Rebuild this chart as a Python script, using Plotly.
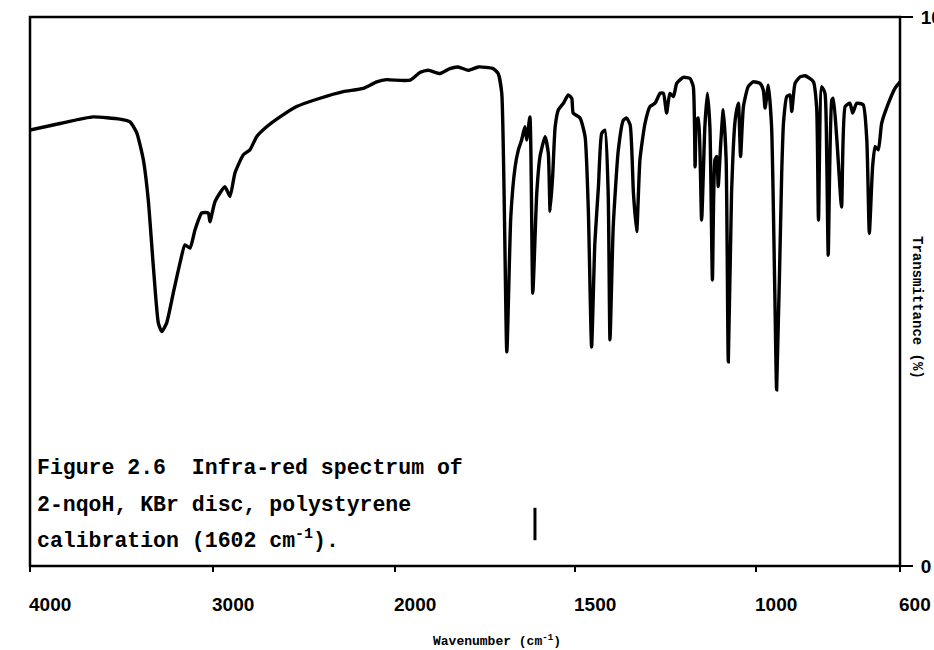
import numpy as np
import plotly.graph_objects as go

# Wavenumber (cm-1) and transmittance (%)
wavenumber = [
    4000, 3836, 3655, 3507, 3452, 3415, 3379, 3352, 3324, 3297, 3278, 3251, 3215, 3178,
    3151, 3123, 3096, 3059, 3023, 3014, 2986, 2932, 2904, 2877, 2831, 2795, 2758, 2703,
    2630, 2539, 2411, 2283, 2174, 2100, 2046, 2000,
    1958, 1931, 1908, 1875, 1848, 1825, 1797, 1769, 1728, 1714, 1704, 1690, 1679, 1667,
    1658, 1649, 1640, 1635, 1626, 1618, 1607, 1598, 1584, 1575, 1570, 1563, 1556, 1547,
    1533, 1520, 1510, 1506, 1487, 1473, 1464, 1455, 1446, 1436, 1427, 1418, 1409, 1404,
    1395, 1381, 1367, 1358, 1348, 1339, 1330, 1321, 1307, 1293, 1279, 1265, 1256, 1247,
    1238, 1228, 1219, 1201, 1182, 1173, 1168, 1164, 1159, 1150, 1141, 1134, 1127, 1120,
    1113, 1108, 1104, 1097, 1090, 1082, 1076, 1067, 1057, 1048, 1042, 1034, 1021, 1007,
    988, 979, 974, 965, 956, 947, 942, 928, 923, 914, 905, 900, 891, 877, 863, 840, 831,
    826, 817, 808, 803, 799, 789, 785, 775, 762, 752, 739, 731, 720, 702, 692, 685, 676,
    669, 660, 651, 632, 614, 600,
]
transmittance = [
    79.4, 80.6, 81.8, 81.4, 80.9, 78.9, 74.0, 66.7, 54.5, 44.3, 42.7, 44.3, 49.7, 55.2,
    58.5, 57.9, 61.2, 64.3, 64.3, 62.7, 66.4, 69.1, 67.3, 71.6, 74.9, 75.8, 78.2, 80.0,
    81.8, 83.7, 85.2, 86.4, 87.0, 88.2, 88.6, 88.5,
    88.5, 89.9, 90.3, 89.7, 90.6, 90.9, 90.3, 90.9, 90.6, 89.7, 86.1, 39.0, 63.6, 72.7,
    75.8, 77.6, 80.0, 77.6, 81.8, 49.7, 67.9, 74.6, 78.2, 75.2, 64.6, 70.9, 80.0, 83.1,
    84.3, 85.8, 85.2, 82.5, 81.6, 78.2, 64.8, 39.9, 58.8, 69.1, 78.8, 79.4, 67.9, 41.2,
    61.8, 75.7, 81.2, 81.6, 80.3, 67.9, 60.9, 74.0, 80.6, 83.7, 84.3, 86.1, 86.1, 82.5,
    86.1, 85.5, 87.9, 89.0, 88.8, 87.3, 72.7, 81.2, 81.6, 63.0, 80.0, 86.1, 80.0, 52.1,
    74.0, 74.6, 69.1, 77.0, 83.1, 74.0, 37.2, 67.9, 81.2, 84.3, 74.6, 83.7, 87.3, 88.2,
    87.9, 86.7, 83.4, 87.6, 80.0, 49.7, 32.1, 71.5, 80.7, 85.5, 85.8, 82.8, 87.9, 89.1,
    89.3, 88.2, 83.4, 63.0, 87.3, 86.1, 74.0, 56.6, 84.9, 85.2, 77.6, 65.4, 83.7, 84.3,
    82.5, 84.3, 84.0, 77.6, 60.6, 72.7, 76.4, 75.8, 80.6, 84.3, 87.0, 88.2,
]

x_ticks_high = [4000, 3000, 2000]
x_ticks_low = [1500, 1000, 600]
y_ticks = [0, 100]
y_ticktext = ["0", "100"]
calib_mark_wn = 1612
calib_mark_t = [4.7, 10.6]
caption_lines = [
    "Figure 2.6  Infra-red spectrum of",
    "2-nqoH, KBr disc, polystyrene",
    "calibration (1602 cm<sup>-1</sup>).",
]

wn = np.array(wavenumber, dtype=float)
tr = np.array(transmittance, dtype=float)
hi = wn >= 2000
lo = wn <= 2000

split = 365 / 870

fig = go.Figure()
line = dict(color="black", width=3.4, shape="spline", smoothing=0.5)
fig.add_trace(go.Scatter(x=wn[hi], y=tr[hi], mode="lines", line=line,
                         xaxis="x", yaxis="y", showlegend=False, hoverinfo="skip"))
fig.add_trace(go.Scatter(x=wn[lo], y=tr[lo], mode="lines", line=line,
                         xaxis="x2", yaxis="y", showlegend=False, hoverinfo="skip"))
# calibration mark
fig.add_trace(go.Scatter(x=[calib_mark_wn, calib_mark_wn], y=calib_mark_t, mode="lines",
                         line=dict(color="black", width=3), xaxis="x2", yaxis="y",
                         showlegend=False, hoverinfo="skip"))

tickfont = dict(family="Liberation Sans", size=19, color="black")
common_x = dict(showgrid=False, zeroline=False, showline=False, ticks="outside",
                ticklen=5, tickwidth=2, tickcolor="black", showticklabels=False,
                fixedrange=True, automargin=False)
fig.update_layout(
    width=934, height=650,
    margin=dict(l=30, r=34, t=17, b=84, autoexpand=False),
    paper_bgcolor="white", plot_bgcolor="white",
    xaxis=dict(domain=[0, split], range=[4000, 2000], tickvals=x_ticks_high,
               anchor="y", **common_x),
    xaxis2=dict(domain=[split, 1], range=[2000, 600], tickvals=x_ticks_low,
                anchor="y", **common_x),
    yaxis=dict(range=[0, 100], side="right", anchor="x2", tickvals=y_ticks,
               ticktext=["<b>%s</b>" % t for t in y_ticktext], ticks="outside",
               ticklen=12, tickwidth=2, tickcolor="black", showgrid=False,
               zeroline=False, showline=False, tickfont=tickfont, fixedrange=True,
               automargin=False, ticklabelstandoff=4),
    shapes=[dict(type="rect", xref="paper", yref="paper", x0=0, x1=1, y0=0, y1=1,
                 line=dict(color="black", width=2.5), layer="above")],
)

annotations = []
for v in x_ticks_high:
    annotations.append(dict(x=v, xref="x", y=-0.071, yref="paper", text="<b>%d</b>" % v,
                            showarrow=False, xanchor="left", yanchor="middle",
                            xshift=-3, font=tickfont))
for v in x_ticks_low:
    annotations.append(dict(x=v, xref="x2", y=-0.071, yref="paper", text="<b>%d</b>" % v,
                            showarrow=False, xanchor="left", yanchor="middle",
                            xshift=-3, font=tickfont))
annotations.append(dict(x=0.537, xref="paper", y=-0.135, yref="paper",
                        text="<b>Wavenumber (cm<sup>-1</sup>)</b>", showarrow=False,
                        xanchor="center", yanchor="middle",
                        font=dict(family="Liberation Mono", size=13, color="black")))
annotations.append(dict(x=1.0195, xref="paper", y=0.47, yref="paper",
                        text="<b>Transmittance (%)</b>", showarrow=False, textangle=90,
                        xanchor="center", yanchor="middle",
                        font=dict(family="Liberation Mono", size=14, color="black")))
for txt, yp in zip(caption_lines, [0.179, 0.112, 0.049]):
    annotations.append(dict(x=0.006, xref="paper", y=yp, yref="paper",
                            text="<b>%s</b>" % txt, showarrow=False, xanchor="left",
                            yanchor="middle",
                            font=dict(family="Liberation Mono", size=21.5, color="black")))
fig.update_layout(annotations=annotations)

fig.write_html("out.html")
